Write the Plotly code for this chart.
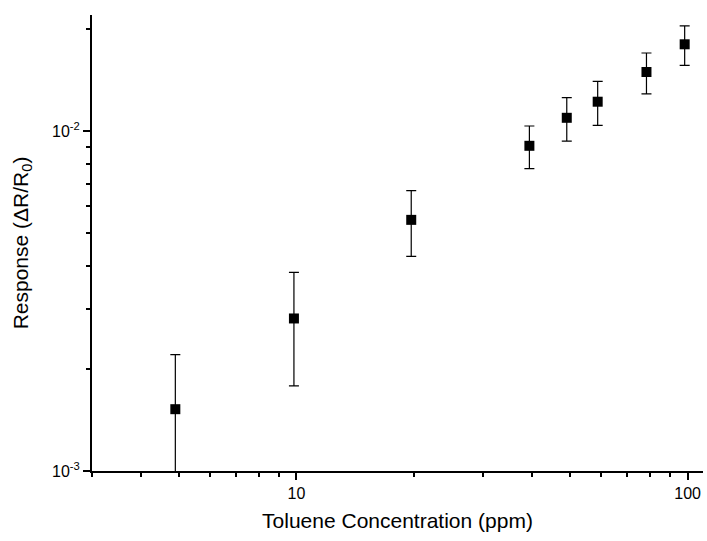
import numpy as np
import plotly.graph_objects as go

# toluene concentration (ppm) and sensor response
conc = [4.9, 9.85, 19.65, 39.4, 49.1, 58.9, 78.5, 98.3]
response = [0.00152, 0.00281, 0.00548, 0.00905, 0.01094, 0.0122, 0.01492, 0.0180]
err = [0.00068, 0.00103, 0.0012, 0.0013, 0.0016, 0.0018, 0.00205, 0.0024]

x_major = [10, 100]
x_major_text = ["10", "100"]
x_minor = [3, 4, 5, 6, 7, 8, 9, 20, 30, 40, 50, 60, 70, 80, 90]
y_major = [0.001, 0.01]
y_major_text = ["10<sup>-3</sup>", "10<sup>-2</sup>"]
y_minor = [0.002, 0.003, 0.004, 0.005, 0.006, 0.007, 0.008, 0.009, 0.02]

FONT = "Arial, Liberation Sans, sans-serif"

fig = go.Figure()
fig.add_trace(go.Scatter(
    x=conc, y=response, mode="markers",
    marker=dict(symbol="square", size=10, color="black"),
    error_y=dict(type="data", array=err, visible=True,
                 color="black", thickness=1.2, width=5),
    showlegend=False,
))

tick_font = dict(family=FONT, size=16, color="black")
title_font = dict(family=FONT, size=21, color="black")

fig.update_xaxes(
    type="log", range=[np.log10(3), np.log10(109.5)],
    tickmode="array", tickvals=x_major, ticktext=x_major_text,
    ticks="outside", ticklen=7, tickwidth=1.5, tickcolor="black",
    minor=dict(tickmode="array", tickvals=x_minor, ticks="outside",
               ticklen=4, tickwidth=1.5, tickcolor="black"),
    showline=True, linewidth=2, linecolor="black",
    showgrid=False, zeroline=False, tickfont=tick_font, automargin=False,
    title=dict(text="Toluene Concentration (ppm)", font=title_font, standoff=12),
)
fig.update_yaxes(
    type="log", range=[-3, np.log10(0.02195)],
    tickmode="array", tickvals=y_major, ticktext=y_major_text,
    ticks="outside", ticklen=7, tickwidth=1.5, tickcolor="black",
    minor=dict(tickmode="array", tickvals=y_minor, ticks="outside",
               ticklen=4, tickwidth=1.5, tickcolor="black"),
    showline=True, linewidth=2, linecolor="black",
    showgrid=False, zeroline=False, tickfont=tick_font, automargin=False,
    title=dict(text="Response (\u0394R/R<sub>0</sub>)", font=title_font, standoff=18),
)

fig.update_layout(
    width=707, height=541,
    margin=dict(l=92, r=4, t=15, b=70),
    plot_bgcolor="white", paper_bgcolor="white",
)

# drop the default page margin so the figure fills the window exactly
fig.write_html("out.html",
               config={"displayModeBar": False},
               post_script="document.body.style.margin='0';"
                           "document.body.style.overflow='hidden';")
